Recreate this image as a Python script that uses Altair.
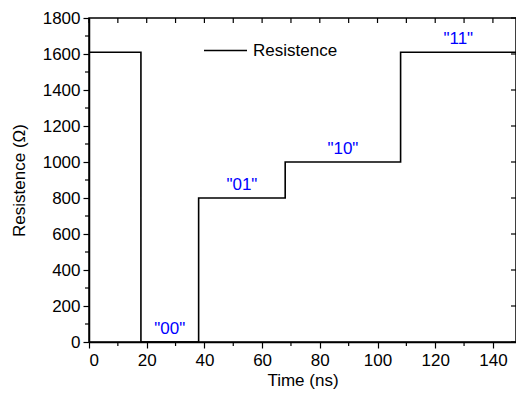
import altair as alt
import pandas as pd

# Step data: time (ns) where each level starts, and resistance level (Ohm)
step_time = [0, 18, 38, 68, 108, 148]
step_res = [1610, 0, 800, 1000, 1610, 1610]

# State labels for each segment
state_labels = ['"00"', '"01"', '"10"', '"11"']
state_seg_start = [18, 38, 68, 108]
state_seg_end = [38, 68, 108, 148]
state_level = [0, 800, 1000, 1610]

x_major = [0, 20, 40, 60, 80, 100, 120, 140]
x_minor = [10, 30, 50, 70, 90, 110, 130]
y_major = [0, 200, 400, 600, 800, 1000, 1200, 1400, 1600, 1800]
y_minor = [100, 300, 500, 700, 900, 1100, 1300, 1500, 1700]

W, H = 427, 324
FONT = "Liberation Sans"
FS = 17

xscale = alt.Scale(domain=[0, 148], nice=False, zero=False)
yscale = alt.Scale(domain=[0, 1800], nice=False)
xaxis = alt.Axis(values=x_major, format="d", tickSize=6, labelPadding=4, titlePadding=4)
yaxis = alt.Axis(values=y_major, format="d", tickSize=6, labelPadding=3, titlePadding=14)
XT = "Time (ns)"
YT = "Resistence (Ω)"

line_df = pd.DataFrame({"t": step_time, "r": step_res, "series": ["Resistence"] * len(step_time)})
lab_df = pd.DataFrame({
    "label": state_labels,
    "t": [(a + b) / 2 for a, b in zip(state_seg_start, state_seg_end)],
    "r": state_level,
})

line = alt.Chart(line_df).mark_line(interpolate="step-after", strokeWidth=1.6).encode(
    x=alt.X("t:Q", scale=xscale, title=XT, axis=xaxis),
    y=alt.Y("r:Q", scale=yscale, title=YT, axis=yaxis),
    color=alt.Color("series:N", scale=alt.Scale(range=["black"]),
                    legend=alt.Legend(orient="none", legendX=114, legendY=10, title=None,
                                      symbolType="stroke", symbolSize=1849,
                                      symbolStrokeWidth=1.6, labelFontSize=FS,
                                      labelFont=FONT, labelOffset=5, padding=0)),
)

labels = alt.Chart(lab_df).mark_text(color="#0000ff", fontSize=FS, font=FONT, dy=-13).encode(
    x=alt.X("t:Q", scale=xscale, title=XT, axis=xaxis),
    y=alt.Y("r:Q", scale=yscale, title=YT, axis=yaxis),
    text="label:N",
)

xmin_df = pd.DataFrame({"v": x_minor})
xall_df = pd.DataFrame({"v": x_major + x_minor})
ymin_df = pd.DataFrame({"v": y_minor})
ymaj_df = pd.DataFrame({"v": y_major})

bottom_minor = alt.Chart(xmin_df).mark_rule(color="black", strokeWidth=1.2).encode(
    x=alt.X("v:Q", scale=xscale, title=XT, axis=xaxis), y=alt.value(H), y2=alt.value(H + 4))
top_ticks = alt.Chart(xall_df).mark_rule(color="black", strokeWidth=1.2).encode(
    x=alt.X("v:Q", scale=xscale, title=XT, axis=xaxis), y=alt.value(0), y2=alt.value(5))
left_minor = alt.Chart(ymin_df).mark_rule(color="black", strokeWidth=1.2).encode(
    y=alt.Y("v:Q", scale=yscale, title=YT, axis=yaxis), x=alt.value(-4), x2=alt.value(0))
right_ticks = alt.Chart(ymaj_df).mark_rule(color="black", strokeWidth=1.2).encode(
    y=alt.Y("v:Q", scale=yscale, title=YT, axis=yaxis), x=alt.value(W - 5), x2=alt.value(W))

chart = alt.layer(line, labels, bottom_minor, top_ticks, left_minor, right_ticks).properties(
    width=W, height=H,
    autosize=alt.AutoSizeParams(type="none"),
    padding={"left": 81, "top": 10, "right": 0, "bottom": 50},
).configure_view(stroke="black", strokeWidth=1.5).configure_axis(
    grid=False, domainColor="black", domainWidth=1.5, tickColor="black", tickWidth=1.2,
    labelFont=FONT, labelFontSize=FS, labelColor="black",
    titleFont=FONT, titleFontSize=FS, titleFontWeight="normal", titleColor="black",
).configure_legend(labelColor="black")

chart.save("out.html", embed_options={"renderer": "svg", "actions": False})
